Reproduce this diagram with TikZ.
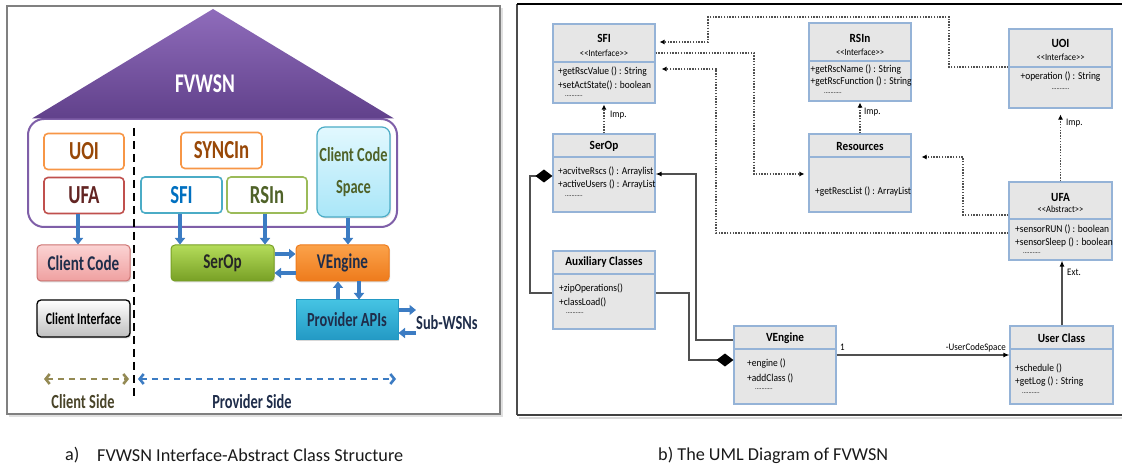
\documentclass[tikz,border=0pt]{standalone}
\usepackage{fontspec}
\setmainfont{Carlito}
\newfontfamily\lfont[FakeStretch=0.72]{Carlito}
\newfontfamily\ufont[FakeStretch=0.9]{Carlito}
\usetikzlibrary{arrows.meta,calc,shadows}

\definecolor{frameg}{HTML}{808080}
\definecolor{purpleA}{HTML}{8F6CBB}
\definecolor{purpleB}{HTML}{61418B}
\definecolor{purpleL}{HTML}{7F5FA8}
\definecolor{orgL}{HTML}{F79646}
\definecolor{brownT}{HTML}{984807}
\definecolor{redL}{HTML}{C0504D}
\definecolor{redT}{HTML}{632523}
\definecolor{cyanL}{HTML}{4BACC6}
\definecolor{blueT}{HTML}{0070C0}
\definecolor{greenL}{HTML}{9BBB59}
\definecolor{greenT}{HTML}{4F6228}
\definecolor{arrblue}{HTML}{3C7CC3}
\definecolor{navyT}{HTML}{1F2D4A}
\definecolor{oliveL}{HTML}{948A54}
\definecolor{oliveT}{HTML}{4A452A}
\definecolor{umlf}{HTML}{E6E6E6}
\definecolor{umlb}{HTML}{95B3D7}
\definecolor{conn}{HTML}{505050}
\definecolor{capT}{HTML}{1A1A1A}
\definecolor{ccsA}{HTML}{E2F8FE}
\definecolor{ccsB}{HTML}{A9E6F8}
\definecolor{serA}{HTML}{B4DC5A}
\definecolor{serB}{HTML}{78A025}
\definecolor{vngA}{HTML}{FBA24A}
\definecolor{vngB}{HTML}{EE7B1C}
\definecolor{apiA}{HTML}{45C3E3}
\definecolor{apiB}{HTML}{2399C4}
\definecolor{ccA}{HTML}{FBD3D3}
\definecolor{ccB}{HTML}{EFA0A0}

\begin{document}
\begin{tikzpicture}[x=1pt,y=-1pt,
  % left panel
  lbox/.style={rounded corners=4pt, line width=1.6pt, fill=white, inner sep=0pt,
    minimum width=80pt, minimum height=36pt,
    font=\lfont\bfseries\fontsize{26}{28}\selectfont},
  fbox/.style={rounded corners=4pt, line width=1pt, inner sep=0pt,
    minimum height=36pt, font=\lfont\bfseries\fontsize{21}{23}\selectfont,
    drop shadow={shadow xshift=1.2pt, shadow yshift=-1.5pt, opacity=0.3}},
  barrow/.style={draw=arrblue, line width=3.6pt, -{Triangle[length=6.5pt,width=10pt]}},
  sidearrow/.style={line width=2.6pt, dash pattern=on 6pt off 5pt,
    {Straight Barb[length=4pt,width=10pt]}-{Straight Barb[length=4pt,width=10pt]}},
  sidelabel/.style={font=\lfont\bfseries\fontsize{20}{22}\selectfont, inner sep=0pt},
  % right panel
  uml/.style={draw=umlb, fill=umlf, line width=1.1pt, inner sep=0pt,
    minimum width=102pt, minimum height=78pt},
  usep/.style={draw=umlb, line width=1.1pt},
  utitle/.style={font=\ufont\bfseries\fontsize{12.5}{14}\selectfont, inner sep=0pt},
  ustereo/.style={font=\ufont\fontsize{9.5}{11}\selectfont, inner sep=0pt},
  uattr/.style={font=\ufont\fontsize{10.5}{12}\selectfont, inner sep=0pt, anchor=west},
  udots/.style={font=\ufont\fontsize{7}{8}\selectfont, inner sep=0pt, anchor=west},
  ulabel/.style={font=\ufont\fontsize{10}{12}\selectfont, inner sep=0pt, anchor=west},
  dep/.style={draw=conn, line width=1.2pt, dash pattern=on 1.4pt off 1.4pt,
    -{Latex[length=5pt,width=5pt,color=black]}},
  assoc/.style={draw=conn, line width=1.3pt},
  comp/.style={assoc, -{Diamond[length=17pt,width=13pt,color=black]}},
  nav/.style={assoc, -{Latex[length=6pt,width=5pt,color=black]}},
  caption/.style={font=\fontsize{18.2}{20}\selectfont, text=capT, inner sep=0pt, anchor=west}
]
\useasboundingbox (0,0) rectangle (1122,470);
\fill[white] (0,0) rectangle (1122,470);

% ---------------- panel a: frame ----------------
\draw[black!12, line width=2pt] (9,416) -- (502,416) -- (502,8);
\draw[frameg, line width=1.5pt] (7,6) rectangle (500,414);

% house body and roof
\node[draw=purpleL, line width=2pt, rounded corners=16pt, fill=white,
      minimum width=369pt, minimum height=108pt] (grp) at (212.5,173) {};
\shade[top color=purpleA, bottom color=purpleB] (213,9) -- (394,118.5) -- (32,118.5) -- cycle;
\node[font=\lfont\bfseries\fontsize{27}{29}\selectfont, text=white, inner sep=0pt] (roof) at (205,84) {FVWSN};

% client / provider divider
\draw[black, line width=2pt, dash pattern=on 8pt off 5pt] (134,128) -- (134,398);

% interface and abstract class boxes
\node[lbox, draw=orgL, text=brownT] (luoi) at (84,151.5) {UOI};
\node[lbox, draw=redL, text=redT] (lufa) at (84,195.5) {UFA};
\node[lbox, draw=orgL, text=brownT, minimum width=81pt] (lsync) at (221.5,150.5) {SYNCIn};
\node[lbox, draw=cyanL, text=blueT, minimum width=81pt] (lsfi) at (181.5,195) {SFI};
\node[lbox, draw=greenL, text=greenT] (lrsin) at (267,195) {RSIn};
\node[rounded corners=8pt, draw=cyanL, line width=1.2pt, top color=ccsA, bottom color=ccsB,
      minimum width=73pt, minimum height=90pt, inner sep=0pt, align=center, text=greenT,
      drop shadow={shadow xshift=1.2pt, shadow yshift=-1.5pt, opacity=0.25},
      font=\lfont\bfseries\fontsize{20}{32}\selectfont] (lccs) at (353.5,172) {Client Code\\Space};

% functional blocks
\node[fbox, draw=redL!80, top color=ccA, bottom color=ccB, text=navyT,
      minimum width=93pt] (lcc) at (83.5,263) {Client Code};
\node[fbox, draw=black, line width=1.3pt, top color=white, bottom color=black!25, text=black,
      minimum width=93pt, minimum height=37pt, font=\lfont\bfseries\fontsize{16.5}{19}\selectfont]
      (lci) at (83.5,318.5) {Client Interface};
\node[fbox, draw=serB, top color=serA, bottom color=serB, text=black!85,
      minimum width=103pt] (lserop) at (222.5,263) {SerOp};
\node[fbox, draw=vngB, top color=vngA, bottom color=vngB, text=navyT,
      minimum width=93pt] (lveng) at (342.5,263) {VEngine};
\node[fbox, draw=apiB, top color=apiA, bottom color=apiB,
      text=navyT, rounded corners=0pt, minimum width=102pt, minimum height=40pt,
      font=\lfont\bfseries\fontsize{20}{22}\selectfont] (lpapi) at (347,320) {Provider APIs};
\node[font=\lfont\bfseries\fontsize{20}{22}\selectfont, text=navyT, inner sep=0pt, anchor=west] (lsub) at (416,323) {Sub-WSNs};

% blue flow arrows
\draw[barrow] (lufa.south -| 78,0) -- (lcc.north -| 78,0);
\draw[barrow] (lsfi.south -| 180,0) -- (lserop.north -| 180,0);
\draw[barrow] (lrsin.south -| 265,0) -- (lserop.north -| 265,0);
\draw[barrow] (lccs.south -| 348,0) -- (lveng.north -| 348,0);
\draw[barrow] (lserop.east |- 0,254) -- (lveng.west |- 0,254);
\draw[barrow] (lveng.west |- 0,273) -- (lserop.east |- 0,273);
\draw[barrow] (lpapi.north -| 338,0) -- (lveng.south -| 338,0);
\draw[barrow] (lveng.south -| 359,0) -- (lpapi.north -| 359,0);
\draw[barrow] (lpapi.east |- 0,310) -- (lsub.west |- 0,310);
\draw[barrow] (lsub.west |- 0,333) -- (lpapi.east |- 0,333);

% sides
\coordinate (cs1) at (44,379);
\coordinate (cs2) at (129,379);
\coordinate (ps1) at (138,379);
\coordinate (ps2) at (396,379);
\draw[sidearrow, oliveL] (cs1) -- (cs2);
\draw[sidearrow, arrblue] (ps1) -- (ps2);
\node[sidelabel, text=oliveT] (lcside) at (83,402) {Client Side};
\node[sidelabel, text=navyT] (lpside) at (252,402) {Provider Side};

% ---------------- panel b: frame ----------------
\draw[black!15, line width=2.5pt] (519,418) -- (1122,418);
\draw[black!70, line width=1.6pt] (517,4) -- (517,415);
\draw[black, line width=1.8pt] (517,4) -- (1122,4);
\draw[black!75, line width=2.4pt] (517,415) -- (1122,415);

% classes
\node[uml, minimum height=79pt] (sfi) at (604,63.5) {};
\draw[usep] (sfi.west |- 0,62) -- (sfi.east |- 0,62);
\node[utitle] (sfiT) at (604,38) {SFI};
\node[ustereo] (sfiS) at (604,53) {<{}<Interface>{}>};
\node[uattr] (sfiA1) at (558,72) {+getRscValue () : String};
\node[uattr] (sfiA2) at (558,85) {+setActState() : boolean};
\node[udots] (sfiD) at (565,96) {...........};

\node[uml] (serop) at (604,173) {};
\draw[usep] (serop.west |- 0,157) -- (serop.east |- 0,157);
\node[utitle] (seropT) at (604,146) {SerOp};
\node[uattr] (seropA1) at (558,172) {+acvitveRscs () : Arraylist};
\node[uattr] (seropA2) at (558,185) {+activeUsers () : ArrayList};
\node[udots] (seropD) at (565,196) {...........};

\node[uml] (aux) at (604,290) {};
\draw[usep] (aux.west |- 0,274) -- (aux.east |- 0,274);
\node[utitle] (auxT) at (604,262) {Auxiliary Classes};
\node[uattr] (auxA1) at (559,289) {+zipOperations()};
\node[uattr] (auxA2) at (559,302) {+classLoad()};
\node[udots] (auxD) at (566,313) {...........};

\node[uml] (rsin) at (860,62) {};
\draw[usep] (rsin.west |- 0,61) -- (rsin.east |- 0,61);
\node[utitle] (rsinT) at (860,38) {RSIn};
\node[ustereo] (rsinS) at (860,52) {<{}<Interface>{}>};
\node[uattr] (rsinA1) at (810.5,70) {+getRscName () : String};
\node[uattr] (rsinA2) at (810.5,82) {+getRscFunction () : String};
\node[udots] (rsinD) at (824,93) {...........};

\node[uml] (res) at (860,173) {};
\draw[usep] (res.west |- 0,157) -- (res.east |- 0,157);
\node[utitle] (resT) at (860,146) {Resources};
\node[uattr] (resA1) at (815,192) {+getRescList () : ArrayList};

\node[uml, minimum width=103pt, minimum height=79pt] (uoi) at (1060.5,68.5) {};
\draw[usep] (uoi.west |- 0,67) -- (uoi.east |- 0,67);
\node[utitle] (uoiT) at (1060.5,43) {UOI};
\node[ustereo] (uoiS) at (1060.5,57) {<{}<Interface>{}>};
\node[uattr, anchor=center] (uoiA1) at (1060.5,77) {+operation () : String};
\node[udots, anchor=center] (uoiD) at (1060.5,89) {...........};

\node[uml, minimum width=103pt] (ufa) at (1060.5,221) {};
\draw[usep] (ufa.west |- 0,219) -- (ufa.east |- 0,219);
\node[utitle] (ufaT) at (1060.5,197) {UFA};
\node[ustereo] (ufaS) at (1060.5,209.5) {<{}<Abstract>{}>};
\node[uattr] (ufaA1) at (1015,229) {+sensorRUN () : boolean};
\node[uattr] (ufaA2) at (1015,243) {+sensorSleep () : boolean};
\node[udots] (ufaD) at (1023,253) {...........};

\node[uml] (veng) at (785,365) {};
\draw[usep] (veng.west |- 0,349) -- (veng.east |- 0,349);
\node[utitle] (vengT) at (785,338) {VEngine};
\node[uattr] (vengA1) at (747,364) {+engine ()};
\node[uattr] (vengA2) at (747,378) {+addClass ()};
\node[udots] (vengD) at (755,389) {...........};

\node[uml, minimum width=103pt] (user) at (1061.5,365) {};
\draw[usep] (user.west |- 0,349) -- (user.east |- 0,349);
\node[utitle] (userT) at (1061.5,338) {User Class};
\node[uattr] (userA1) at (1015,368) {+schedule ()};
\node[uattr] (userA2) at (1015,382) {+getLog () : String};
\node[udots] (userD) at (1022,393) {...........};

% realisation / dependency links
\draw[dep, shorten >=4pt] (uoi.west |- 0,67) -| (949,17) -| (708,42) -- (sfi.east |- 0,42);
\draw[dep, shorten >=4pt] (sfi.east |- 0,53) -| (754,174) -- (res.west |- 0,174);
\draw[dep, shorten >=6pt] (ufa.west |- 0,233) -| (716,69) -- (sfi.east |- 0,69);
\draw[dep, shorten >=10pt] (ufa.west |- 0,215) -| (963,157) -- (res.east |- 0,157);
\draw[dep, shorten >=1pt] (serop.north) -- (sfi.south);
\node[ulabel] (imp1) at (610,115) {Imp.};
\draw[dep, shorten >=1pt] (res.north) -- (rsin.south);
\node[ulabel] (imp2) at (864,112) {Imp.};
\draw[dep, shorten >=6pt] (ufa.north) -- (uoi.south);
\node[ulabel] (imp3) at (1066,123) {Imp.};

% extension
\draw[nav] (user.north -| 1062,0) -- (ufa.south -| 1062,0);
\node[ulabel] (ext) at (1067,272) {Ext.};

% compositions and navigable associations
\draw[comp] (aux.west |- 0,293) -| (530,176) -- (serop.west |- 0,176);
\draw[nav] (veng.west |- 0,340) -| (696,174) -- (serop.east |- 0,174);
\draw[comp] (aux.east |- 0,293) -| (689,360) -- (veng.west |- 0,360);
\draw[nav] (veng.east |- 0,355) -- (user.west |- 0,355);
\node[ulabel] (mult) at (840,347) {1};
\node[ulabel, anchor=east] (role) at (1006,348) {-UserCodeSpace};

% ---------------- captions ----------------
\node[caption] (capa) at (65,455) {a)};
\node[caption] (capat) at (97,455) {FVWSN Interface-Abstract Class Structure};
\node[caption] (capb) at (658,455) {b) The UML Diagram of FVWSN};
\end{tikzpicture}
\end{document}
